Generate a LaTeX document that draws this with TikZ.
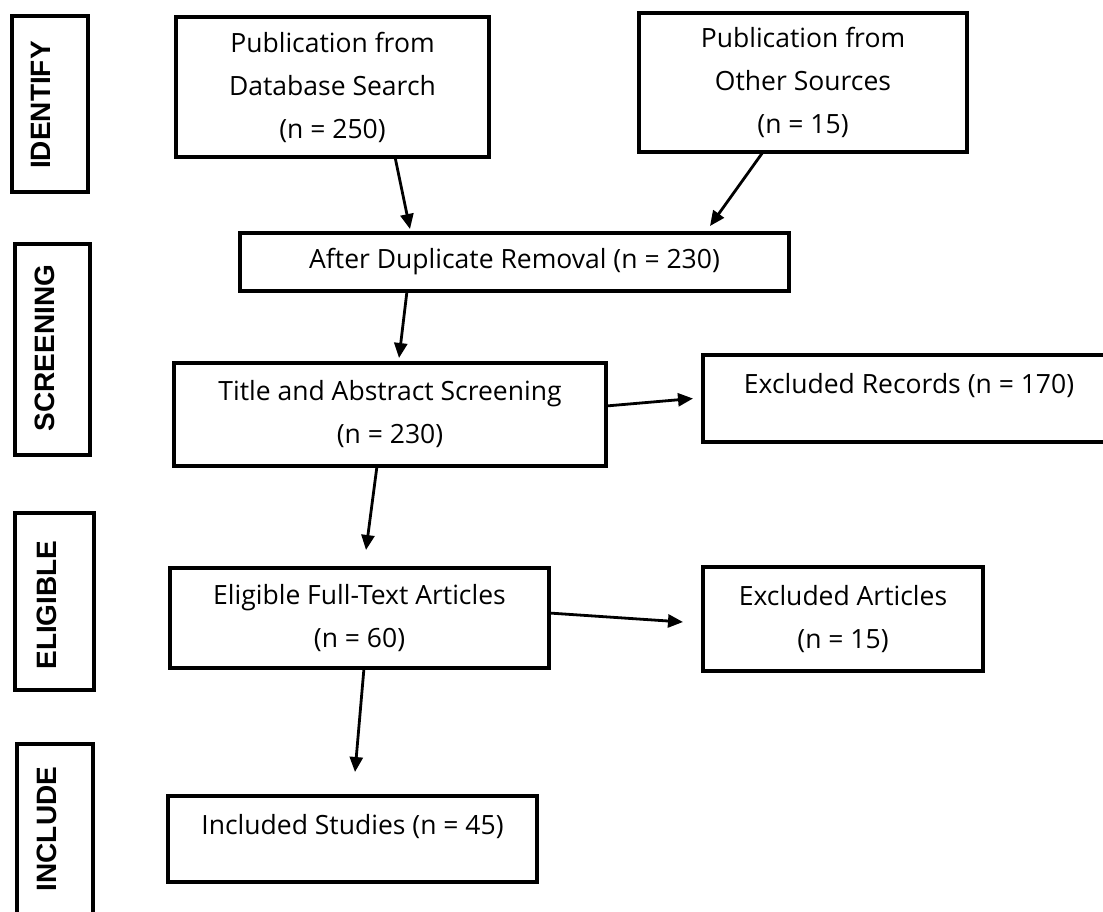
\documentclass[tikz,border=0pt]{standalone}
\usepackage{fontspec}
\setmainfont{Open Sans}
\newfontfamily\labfont{Liberation Sans}
\usetikzlibrary{arrows.meta}
\begin{document}
\begin{tikzpicture}[x=1pt,y=-1pt,
  box/.style={draw, line width=3.2pt, inner sep=0pt, outer sep=0pt, align=center, font=\fontsize{26.5}{43}\selectfont},
  labbox/.style={draw, line width=3.4pt, inner sep=0pt, outer sep=0pt},
  labtext/.style={rotate=90, inner sep=0pt, font=\labfont\bfseries\fontsize{28}{34}\selectfont},
  arr/.style={line width=2.8pt, -{Triangle[length=15pt,width=13pt]}}]
\useasboundingbox (0,0) rectangle (1103,911);
\clip (0,0) rectangle (1103,911);
\fill[white] (0,0) rectangle (1103,911);
% stage labels
\node[labbox, minimum width=76pt, minimum height=176pt] (idbox) at (50,104) {};
\node[labtext] (idtext) at (40.5,105) {IDENTIFY};
\node[labbox, minimum width=75pt, minimum height=211pt] (scbox) at (52.5,349.5) {};
\node[labtext] (sctext) at (44.5,348) {SCREENING};
\node[labbox, minimum width=79pt, minimum height=177pt] (elbox) at (54.5,601.5) {};
\node[labtext] (eltext) at (46.5,605) {ELIGIBLE};
\node[labbox, minimum width=76pt, minimum height=206pt] (inbox) at (55,847) {};
\node[labtext] (intext) at (46.5,829) {INCLUDE};
% flow boxes
\node[box, minimum width=313pt, minimum height=140pt] (db) at (332.5,87) {Publication from\\Database Search\\(n = 250)};
\node[box, minimum width=328pt, minimum height=139pt] (other) at (803,82.5) {Publication from\\Other Sources\\(n = 15)};
\node[box, minimum width=549pt, minimum height=58pt] (dup) at (514.5,262) {After Duplicate Removal (n = 230)};
\node[box, minimum width=432pt, minimum height=103pt] (title) at (390,414.5) {Title and Abstract Screening\\(n = 230)};
\node[box, minimum width=412pt, minimum height=87pt, text height=10pt, text depth=21pt] (exrec) at (909,398.5) {Excluded Records (n = 170)};
\node[box, minimum width=379pt, minimum height=100pt] (elig) at (359.5,618) {Eligible Full-Text Articles\\(n = 60)};
\node[box, minimum width=280pt, minimum height=104pt] (exart) at (843,619) {Excluded Articles\\(n = 15)};
\node[box, minimum width=369pt, minimum height=86pt, text height=10pt, text depth=19pt] (incl) at (352.5,839) {Included Studies (n = 45)};
% connectors
\draw[arr] ([xshift=62.5pt]db.south) -- ([xshift=-104.5pt,yshift=4pt]dup.north);
\draw[arr] ([xshift=-40pt]other.south) -- ([xshift=195.5pt,yshift=7pt]dup.north);
\draw[arr] ([xshift=-107.5pt]dup.south) -- ([xshift=9pt,yshift=5pt]title.north);
\draw[arr] ([yshift=8.5pt]title.east) -- ([xshift=-10pt]exrec.west);
\draw[arr] ([xshift=-13pt]title.south) -- ([xshift=6.5pt,yshift=18pt]elig.north);
\draw[arr] ([yshift=5pt]elig.east) -- ([xshift=-20pt,yshift=-3pt]exart.west);
\draw[arr] ([xshift=4.5pt]elig.south) -- ([xshift=2.5pt,yshift=24pt]incl.north);
\end{tikzpicture}
\end{document}
